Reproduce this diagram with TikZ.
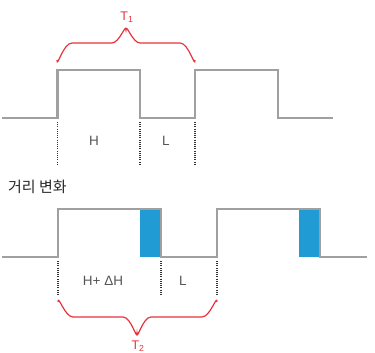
\documentclass[tikz,border=0pt]{standalone}
\usepackage{fontspec}
\setmainfont{Liberation Sans}
\newfontfamily\krfont{Noto Sans CJK KR}
\begin{document}
\begin{tikzpicture}[x=1pt,y=-1pt,
  wave/.style={draw=wavegray,line width=2.3pt,line join=miter},
  guide/.style={draw=black!80,line width=1.1pt,dash pattern=on 0.9pt off 1.3pt},
  brace/.style={draw=bracered,line width=1.2pt},
  lbl/.style={font=\fontsize{13.5}{15}\selectfont,text=labelgray,inner sep=0pt},
  tlbl/.style={font=\fontsize{12.5}{14}\selectfont,text=bracered,inner sep=0pt},
  pulse/.style={fill=pulseblue,draw=none}]
\definecolor{wavegray}{RGB}{160,160,162}
\definecolor{labelgray}{RGB}{85,85,85}
\definecolor{bracered}{RGB}{232,50,60}
\definecolor{pulseblue}{RGB}{33,155,211}
\useasboundingbox (0,0) rectangle (375,353);
% top waveform
\draw[wave] (2,118) -- (57.5,118) -- (57.5,70) -- (140,70) -- (140,118) -- (195,118) -- (195,70) -- (278,70) -- (278,118) -- (333,118);
\coordinate (a1) at (57.5,122); \coordinate (a2) at (57.5,164);
\coordinate (b1) at (140,122); \coordinate (b2) at (140,164);
\coordinate (c1) at (195,122); \coordinate (c2) at (195,164);
\draw[guide] (a1) -- (a2); \draw[guide] (b1) -- (b2); \draw[guide] (c1) -- (c2);
\node[lbl] (H1) at (94,141) {H};
\node[lbl] (L1) at (166,141) {L};
\draw[brace] (57,60) to[out=-90,in=180] (72,43) -- (112,43) to[out=0,in=90] (126,30) to[out=90,in=180] (140,43) -- (180,43) to[out=0,in=-90] (195,60);
\node[tlbl] (T1) at (127,17) {T\textsubscript{1}};
% label
\node[font=\krfont\fontsize{15}{17}\selectfont,text=black!85,anchor=west,inner sep=0pt] (dist) at (8,187) {거리 변화};
% bottom waveform
\fill[pulse] (140,209) rectangle (161,257);
\fill[pulse] (299,209) rectangle (320,257);
\draw[wave] (2,257) -- (58,257) -- (58,209) -- (161,209) -- (161,257) -- (217,257) -- (217,209) -- (320,209) -- (320,257) -- (367,257);
\coordinate (d1) at (58,261); \coordinate (d2) at (58,295);
\coordinate (e1) at (161,261); \coordinate (e2) at (161,295);
\coordinate (f1) at (217,261); \coordinate (f2) at (217,295);
\draw[guide] (d1) -- (d2); \draw[guide] (e1) -- (e2); \draw[guide] (f1) -- (f2);
\node[lbl] (H2) at (103,281) {H+ ΔH};
\node[lbl] (L2) at (183,281) {L};
\draw[brace] (58,302) to[out=90,in=180] (73,317) -- (123,317) to[out=0,in=-90] (137,333) to[out=-90,in=180] (151,317) -- (202,317) to[out=0,in=90] (217,302);
\node[tlbl] (T2) at (138,346) {T\textsubscript{2}};
\end{tikzpicture}
\end{document}
